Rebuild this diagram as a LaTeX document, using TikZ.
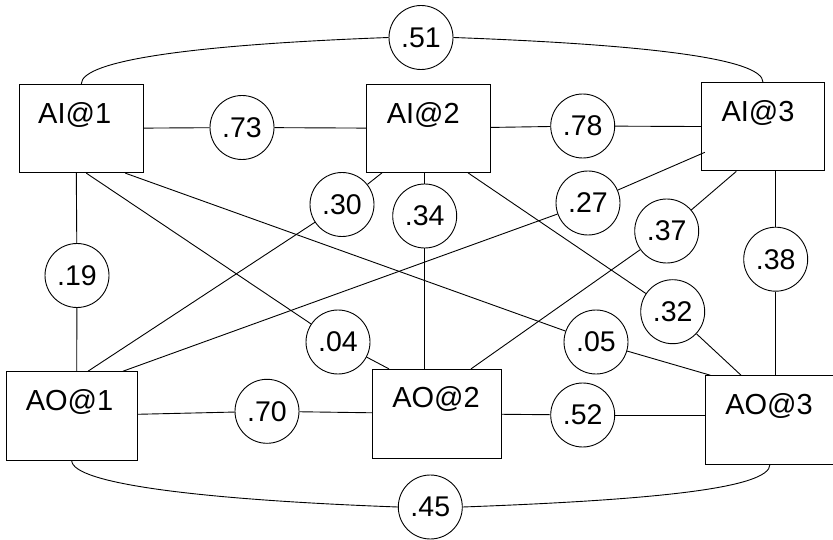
\documentclass[tikz,border=0pt]{standalone}
\usepackage{fontspec}
\setmainfont{Liberation Sans}
\begin{document}
\begin{tikzpicture}[x=1pt,y=-1pt,line width=0.9pt,
  box/.style={draw,rectangle,inner sep=0pt},
  wt/.style={draw,circle,minimum size=64pt,inner sep=0pt,
    font=\fontsize{28.5}{30}\selectfont},
  boxlabel/.style={anchor=base,inner sep=0pt,
    font=\fontsize{29}{32}\selectfont}]
\clip (0,0) rectangle (833,540);

% unit boxes
\node[box,minimum width=124pt,minimum height=88.4pt] (ai1) at (81.3,128.5) {};
\node[box,minimum width=124pt,minimum height=88pt]   (ai2) at (428.7,128.4) {};
\node[box,minimum width=123.4pt,minimum height=88.3pt] (ai3) at (763,126.8) {};
\node[box,minimum width=131.3pt,minimum height=88.3pt] (ao1) at (71.7,415.8) {};
\node[box,minimum width=129.4pt,minimum height=88.7pt] (ao2) at (437,413.7) {};
\node[box,minimum width=130pt,minimum height=88.3pt] (ao3) at (770,419.8) {};

% box captions
\node[boxlabel] (ai1t) at ([xshift=-6.6pt,yshift=5.2pt]ai1.center) {AI@1};
\node[boxlabel] (ai2t) at ([xshift=-5.4pt,yshift=5.1pt]ai2.center) {AI@2};
\node[boxlabel] (ai3t) at ([xshift=-5pt,yshift=5.1pt]ai3.center) {AI@3};
\node[boxlabel] (ao1t) at ([xshift=-2.2pt,yshift=5.8pt]ao1.center) {AO@1};
\node[boxlabel] (ao2t) at ([xshift=-1pt,yshift=6.4pt]ao2.center) {AO@2};
\node[boxlabel] (ao3t) at ([xshift=-1pt,yshift=5.5pt]ao3.center) {AO@3};

% weights
\node[wt] (c51) at (421,37.5) {.51};
\node[wt] (c73) at (242,127.5) {.73};
\node[wt] (c78) at (582.7,126) {.78};
\node[wt] (c30) at (342,204.5) {.30};
\node[wt] (c34) at (424.7,216) {.34};
\node[wt] (c27) at (588,203) {.27};
\node[wt] (c37) at (666.7,231) {.37};
\node[wt] (c38) at (775.7,259.2) {.38};
\node[wt] (c19) at (77,275.5) {.19};
\node[wt] (c04) at (338,342) {.04};
\node[wt] (c05) at (596,342) {.05};
\node[wt] (c32) at (672.7,311.7) {.32};
\node[wt] (c70) at (267,411.3) {.70};
\node[wt] (c52) at (582.7,415) {.52};
\node[wt] (c45) at (430.3,507) {.45};

% outer arcs
\draw (ai1.north) .. controls +(0,-24) and +(-190,7) .. (c51.west);
\draw (c51.east) .. controls +(190,7) and +(0,-24) .. (ai3.north);
\draw (ao1.south) .. controls +(0,24) and +(-190,-7) .. (c45.west);
\draw (c45.east) .. controls +(190,-7) and +(0,24) .. (ao3.south);

% horizontal links
\draw (c73) edge (ai1) edge (ai2);
\draw (c78) edge (ai2) edge (ai3);
\draw (c70) edge (ao1) edge (ao2);
\draw (c52) -- (ao2);
\draw (c52.east) -- (c52.east -| ao3.west);

% links from AI@1
\draw ([xshift=-5pt]ai1.south) -- (c19);
\draw (c19) -- ([xshift=5pt]ao1.north);
\draw ([xshift=5pt]ai1.south) -- (c04);
\draw (c04) -- ([xshift=-48pt]ao2.north);
\draw ([xshift=44pt]ai1.south) -- (c05);
\draw (c05) -- ([xshift=5.7pt]ao3.north west);

% links from AI@2
\draw ([xshift=-46.7pt]ai2.south) -- (c30);
\draw (c30) -- ([xshift=16.3pt]ao1.north);
\draw ([xshift=-4pt]ai2.south) -- (c34);
\draw (c34) -- ([xshift=-12.3pt]ao2.north);
\draw ([xshift=39.3pt]ai2.south) -- (c32);
\draw (c32) -- ([xshift=-29pt]ao3.north);

% links from AI@3
\draw ([xshift=4pt,yshift=-25.5pt]ai3.west) -- (c27);
\draw (c27) -- ([xshift=51.3pt]ao1.north);
\draw ([xshift=-26.7pt]ai3.south) -- (c37);
\draw (c37) -- ([xshift=34pt]ao2.north);
\draw ([xshift=12.7pt]ai3.south) -- (c38);
\draw (c38) -- ([xshift=5.7pt]ao3.north);
\end{tikzpicture}
\end{document}
